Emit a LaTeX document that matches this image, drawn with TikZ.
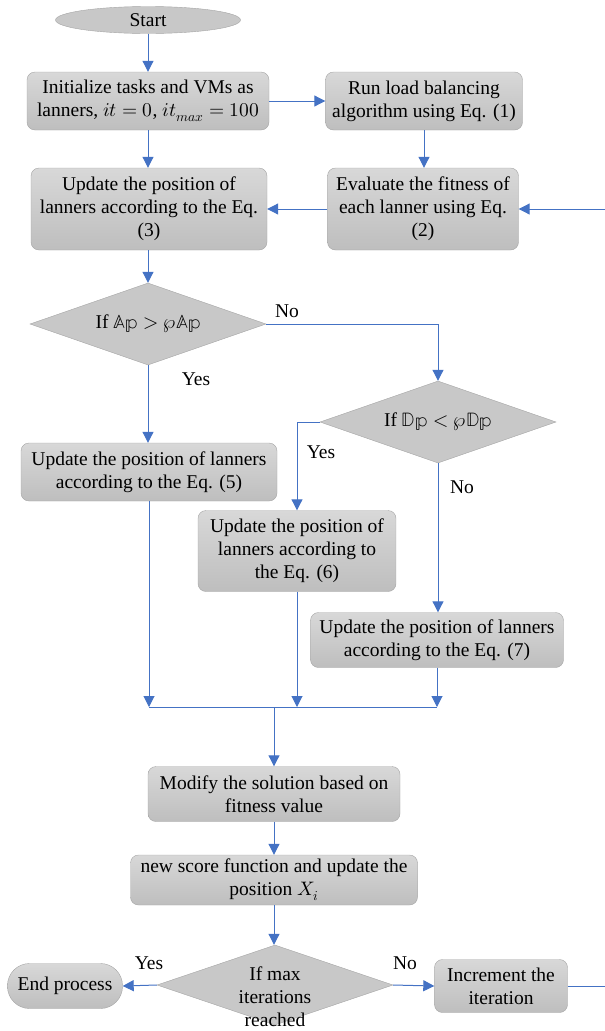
\documentclass[tikz,border=0pt]{standalone}
\usepackage{fontspec}
\usepackage{unicode-math}
\setmainfont{Liberation Serif}
\setmathfont{Latin Modern Math}
\usetikzlibrary{shapes.geometric, arrows.meta}

\definecolor{boxtop}{RGB}{216,216,216}
\definecolor{boxbot}{RGB}{190,190,190}
\definecolor{boxline}{RGB}{165,165,165}
\definecolor{decfill}{RGB}{200,200,200}
\definecolor{flowblue}{RGB}{68,114,196}

\tikzset{
    procbox/.style={rectangle, rounded corners=8pt, draw=boxline, top color=boxtop, bottom color=boxbot, align=center, inner sep=0pt},
    decbox/.style={diamond, aspect=2.9, draw=boxline, fill=decfill, align=center, inner sep=0pt},
    flow/.style={draw=flowblue, line width=1pt, -{Triangle[length=11pt,width=11pt]}},
    flowline/.style={draw=flowblue, line width=1pt},
    lbl/.style={inner sep=0pt}
}

\begin{document}
\begin{tikzpicture}[x=1pt, y=-1pt, font=\fontsize{19.5}{23}\selectfont]
    \clip (0,0) rectangle (605,1031);

    % Draw nodes
    \node[ellipse, draw=boxline, fill=decfill, minimum width=185, minimum height=27, inner sep=0pt] (start) at (148,20) {Start};
    \node[procbox, minimum width=242, minimum height=58] (init) at (148,101) {Initialize tasks and VMs as\\lanners, $it=0$, $it_{max}=100$};
    \node[procbox, minimum width=197, minimum height=58] (run) at (424,101) {Run load balancing\\algorithm using Eq. (1)};
    \node[procbox, minimum width=236, minimum height=82] (upd3) at (149,209) {Update the position of\\lanners according to the Eq.\\(3)};
    \node[procbox, minimum width=191, minimum height=82] (eval) at (423,209) {Evaluate the fitness of\\each lanner using Eq.\\(2)};
    \node[decbox, minimum width=236, minimum height=82] (dec1) at (148,324) {If $\mathbb{A}\mathbb{p} > \wp\mathbb{A}\mathbb{p}$};
    \node[decbox, minimum width=236, minimum height=82] (dec2) at (438,422) {If $\mathbb{D}\mathbb{p} < \wp\mathbb{D}\mathbb{p}$};
    \node[procbox, minimum width=256, minimum height=58] (upd5) at (149,472) {Update the position of lanners\\according to the Eq. (5)};
    \node[procbox, minimum width=198, minimum height=81] (upd6) at (297,551) {Update the position of\\lanners according to\\the Eq. (6)};
    \node[procbox, minimum width=253, minimum height=55] (upd7) at (437,640) {Update the position of lanners\\according to the Eq. (7)};
    \coordinate (m5) at (149,707);
    \coordinate (m6) at (297,707);
    \coordinate (m7) at (437,707);
    \coordinate (mj) at (274,707);
    \node[procbox, minimum width=252, minimum height=55] (modify) at (274,794) {Modify the solution based on\\fitness value};
    \node[procbox, minimum width=287, minimum height=50] (score) at (274,880) {new score function and update the\\position $X_i$};
    \node[decbox, minimum width=236, minimum height=80] (dec3) at (275,985) {};
    \node[align=center, inner sep=0pt] (dec3txt) at (275,997) {If max\\iterations\\reached};
    \node[procbox, rounded corners=22pt, minimum width=115, minimum height=45] (endp) at (65,986) {End process};
    \node[procbox, minimum width=133, minimum height=53] (incr) at (501,986) {Increment the\\iteration};

    % Draw connections
    \draw[flow] (start) -- (init);
    \draw[flow] (init) -- (run);
    \draw[flow] (init.south) -- (init.south |- upd3.north);
    \draw[flow] (run.south) -- (run.south |- eval.north);
    \draw[flow] (eval) -- (upd3);
    \draw[flow] (upd3.south -| dec1.north) -- (dec1.north);
    \draw[flow] (dec1.east) -| (dec2.north);
    \draw[flow] (dec1.south) -- (dec1.south |- upd5.north);
    \draw[flow] (dec2.west) -| (upd6.north);
    \draw[flow] (dec2.south) -- (dec2.south |- upd7.north);
    \draw[flow] (upd5.south) -- (m5);
    \draw[flow] (upd6.south) -- (m6);
    \draw[flow] (upd7.south) -- (m7);
    \draw[flowline] (m5) -- (m7);
    \draw[flow] (mj) -- (modify.north -| mj);
    \draw[flow] (modify.south -| mj) -- (score.north -| mj);
    \draw[flow] (score.south -| mj) -- (dec3.north -| mj);
    \draw[flow] (dec3.west) -- (endp.east);
    \draw[flow] (dec3.east) -- (incr.west);
    \draw[flow] (incr.east) -- ++(60,0) |- (eval.east);

    % Labels
    \node[lbl] (no1) at (287,311) {No};
    \node[lbl] (yes1) at (196,379) {Yes};
    \node[lbl] (yes2) at (321,452) {Yes};
    \node[lbl] (no2) at (462,487) {No};
    \node[lbl] (yes3) at (149,963) {Yes};
    \node[lbl] (no3) at (405,963) {No};
\end{tikzpicture}
\end{document}
